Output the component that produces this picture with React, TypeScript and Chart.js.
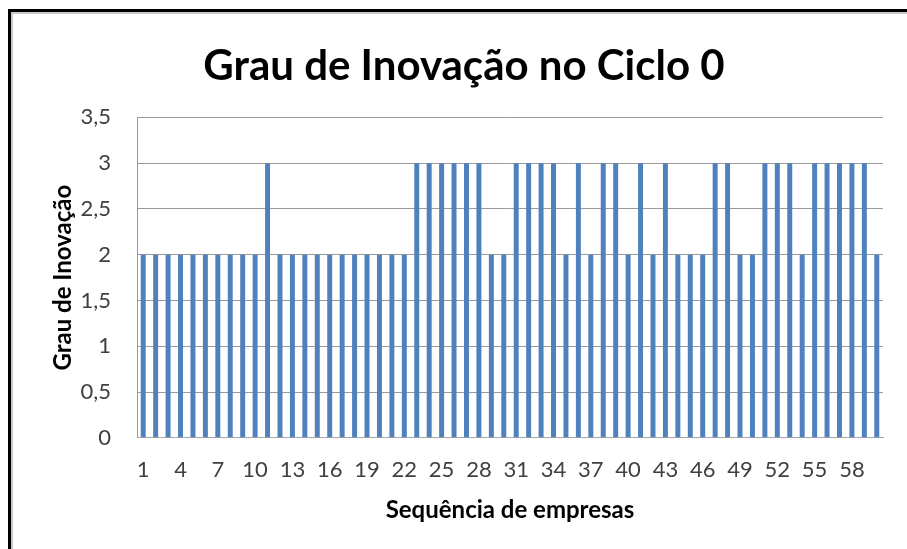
import React, { useEffect, useRef } from "react";
import { Chart, registerables } from "chart.js";

Chart.register(...registerables);

const chartTitle = "Grau de Inovação no Ciclo 0";
const xAxisTitle = "Sequência de empresas";
const yAxisTitle = "Grau de Inovação";

const categories = [
  "1", "2", "3", "4", "5", "6", "7", "8", "9", "10",
  "11", "12", "13", "14", "15", "16", "17", "18", "19", "20",
  "21", "22", "23", "24", "25", "26", "27", "28", "29", "30",
  "31", "32", "33", "34", "35", "36", "37", "38", "39", "40",
  "41", "42", "43", "44", "45", "46", "47", "48", "49", "50",
  "51", "52", "53", "54", "55", "56", "57", "58", "59", "60",
];

const grauValues = [
  2, 2, 2, 2, 2, 2, 2, 2, 2, 2,
  3, 2, 2, 2, 2, 2, 2, 2, 2, 2,
  2, 2, 3, 3, 3, 3, 3, 3, 2, 2,
  3, 3, 3, 3, 2, 3, 2, 3, 3, 2,
  3, 2, 3, 2, 2, 2, 3, 3, 2, 2,
  3, 3, 3, 2, 3, 3, 3, 3, 3, 2,
];

const xTickLabels = [
  "1", "4", "7", "10", "13", "16", "19", "22", "25", "28",
  "31", "34", "37", "40", "43", "46", "49", "52", "55", "58",
];

const yTickLabels = ["0", "0,5", "1", "1,5", "2", "2,5", "3", "3,5"];

export default function App() {
  const canvasRef = useRef<HTMLCanvasElement | null>(null);

  useEffect(() => {
    if (!canvasRef.current) return;
    const chart = new Chart(canvasRef.current, {
      type: "bar",
      data: {
        labels: categories,
        datasets: [
          {
            label: yAxisTitle,
            data: grauValues,
            backgroundColor: "#4F81BD",
            borderWidth: 0,
            barPercentage: 0.4,
            categoryPercentage: 1.0,
          },
        ],
      },
      options: {
        animation: false,
        responsive: false,
        maintainAspectRatio: false,
        layout: { padding: { left: 45, right: 24, top: 0, bottom: 20 } },
        plugins: {
          legend: { display: false },
          tooltip: { enabled: false },
          title: {
            display: true,
            text: chartTitle,
            color: "#000000",
            font: { family: "Lato", size: 42, weight: "bold" },
            padding: { top: 41, bottom: 26 },
          },
        },
        scales: {
          x: {
            grid: { display: false, drawTicks: false },
            border: { display: true, color: "#a6a6a6", width: 1 },
            ticks: {
              autoSkip: false,
              maxRotation: 0,
              minRotation: 0,
              padding: 19,
              color: "#404040",
              font: { family: "Lato", size: 22 },
              callback: (_v: any, i: number) =>
                i % 3 === 0 ? xTickLabels[i / 3] : "",
            },
            title: {
              display: true,
              text: xAxisTitle,
              color: "#000000",
              font: { family: "Lato", size: 24, weight: "bold" },
              padding: { top: -6, bottom: 4 },
            },
          },
          y: {
            min: 0,
            max: 3.5,
            afterFit: (scale: any) => {
              scale.width = 92;
            },
            grid: { color: "#9a9a9a", drawTicks: false, lineWidth: 1 },
            border: { display: true, color: "#9a9a9a", width: 1 },
            ticks: {
              stepSize: 0.5,
              padding: 26,
              color: "#404040",
              font: { family: "Lato", size: 22 },
              callback: (_v: any, i: number) => yTickLabels[i],
            },
            title: {
              display: true,
              text: yAxisTitle,
              color: "#000000",
              font: { family: "Lato", size: 24, weight: "bold" },
              padding: { top: 4, bottom: 4 },
            },
          },
        },
      },
    });
    return () => chart.destroy();
  }, []);

  return (
    <div
      style={{
        position: "fixed",
        left: 0,
        top: 0,
        width: 907,
        height: 549,
        background: "#ffffff",
        overflow: "hidden",
      }}
    >
      <div
        style={{
          position: "absolute",
          left: 8,
          top: 9,
          width: 920,
          height: 560,
          borderTop: "3px solid #000000",
          borderLeft: "3px solid #000000",
        }}
      >
        <div
          style={{
            position: "absolute",
            left: 0,
            top: 0,
            width: 920,
            height: 560,
            borderTop: "2px solid #c8c8c8",
            borderLeft: "2px solid #c8c8c8",
          }}
        />
      </div>
      <canvas
        ref={canvasRef}
        width={907}
        height={549}
        style={{ position: "absolute", left: 0, top: 0, width: 907, height: 549 }}
      />
    </div>
  );
}
